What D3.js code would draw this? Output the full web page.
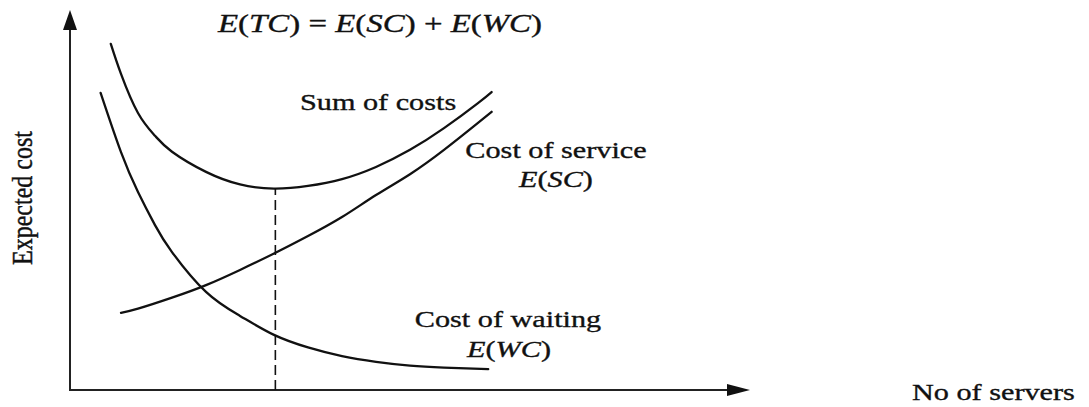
<!DOCTYPE html>
<html>
<head>
<meta charset="utf-8">
<script src="https://cdn.jsdelivr.net/npm/d3@7"></script>
<style>
  body { margin: 0; background: #fff; }
  text { font-family: "Liberation Serif", "Times New Roman", serif; fill: #111; stroke: #111; stroke-width: 0.35px; }
</style>
</head>
<body>
<script>
// values (x = number of servers, y = expected cost, both 0-100)
const xWaiting = [4.5, 7.5, 10, 12.5, 15, 20, 25, 30, 35, 40, 45, 50, 55, 61.5];
const costWaiting = [78.2, 62.6, 52.1, 43.4, 36.3, 25.8, 19.5, 14.5, 11.2, 8.9, 7.4, 6.4, 5.9, 5.5];

const xService = [7.5, 10, 15, 20, 25, 30, 35, 40, 45, 50, 55, 60, 62];
const costService = [20.3, 21.4, 24.3, 27.6, 31.6, 35.9, 40.5, 45.5, 51.3, 56.8, 63.2, 70.3, 73.2];

const xTotal = [6, 7.5, 10, 12.5, 15, 20, 25, 30, 35, 40, 45, 50, 55, 60, 62];
const costTotal = [91.1, 83.2, 72.9, 66.9, 62.7, 57.4, 54.1, 53.0, 53.7, 55.5, 58.7, 63.2, 68.9, 75.5, 78.4];

const optimum = [30.2, 53.0];   // dashed drop line: servers, total cost
const axisMax = 100;

function main() {
  var svg = d3.select("body")
              .append("svg")
              .attr("width", 1089)
              .attr("height", 407);

  var x = d3.scaleLinear().domain([0, axisMax]).range([70, 750]);
  var y = d3.scaleLinear().domain([0, axisMax]).range([390, 10]);

  var stretch = 1.26;  // the source picture is squeezed wider than tall

  // axes with arrow heads
  svg.append("line")
     .attr("x1", x(0)).attr("y1", y(0))
     .attr("x2", x(0)).attr("y2", y(axisMax) + 15)
     .attr("stroke", "#222").attr("stroke-width", 2);
  svg.append("path")
     .attr("d", `M${x(0)},${y(axisMax)} L${x(0) - 7},${y(axisMax) + 20} L${x(0) + 7},${y(axisMax) + 20} Z`)
     .attr("fill", "#111");

  svg.append("line")
     .attr("x1", x(0) - 1).attr("y1", y(0))
     .attr("x2", x(axisMax) - 18).attr("y2", y(0))
     .attr("stroke", "#222").attr("stroke-width", 2);
  svg.append("path")
     .attr("d", `M${x(axisMax)},${y(0)} L${x(axisMax) - 23},${y(0) - 6} L${x(axisMax) - 23},${y(0) + 6} Z`)
     .attr("fill", "#111");

  // curves
  var line = d3.line()
               .x(d => x(d[0]))
               .y(d => y(d[1]))
               .curve(d3.curveNatural);

  var series = [
    d3.zip(xWaiting, costWaiting),
    d3.zip(xService, costService),
    d3.zip(xTotal, costTotal)
  ];

  svg.selectAll("path.curve")
     .data(series)
     .join("path")
     .attr("class", "curve")
     .attr("d", line)
     .attr("fill", "none")
     .attr("stroke", "#111")
     .attr("stroke-width", 2.3)
     .attr("stroke-linecap", "round");

  // optimum drop line
  svg.append("line")
     .attr("x1", x(optimum[0])).attr("y1", y(0))
     .attr("x2", x(optimum[0])).attr("y2", y(optimum[1]))
     .attr("stroke", "#111")
     .attr("stroke-width", 1.6)
     .attr("stroke-dasharray", "10,5");

  // text labels, parts = [text, italic]
  function label(px, py, parts, size, anchor, sx) {
    var t = svg.append("text")
               .attr("transform", `translate(${px},${py}) scale(${sx || stretch},1)`)
               .attr("text-anchor", anchor)
               .style("font-size", size + "px")
               .attr("xml:space", "preserve");
    parts.forEach(p => {
      t.append("tspan")
       .style("font-style", p[1] ? "italic" : "normal")
       .text(p[0]);
    });
  }

  label(218, 32, [["E", 1], ["(", 0], ["TC", 1], [") = ", 0], ["E", 1], ["(", 0], ["SC", 1],
                  [") + ", 0], ["E", 1], ["(", 0], ["WC", 1], [")", 0]], 25.5, "start", 1.29);
  label(300, 110, [["Sum of costs", 0]], 24, "start");
  label(556, 158, [["Cost of service", 0]], 24, "middle");
  label(556, 187, [["E", 1], ["(", 0], ["SC", 1], [")", 0]], 24, "middle");
  label(508, 327, [["Cost of waiting", 0]], 24, "middle");
  label(509, 357, [["E", 1], ["(", 0], ["WC", 1], [")", 0]], 24, "middle");
  label(912, 400, [["No of servers", 0]], 24, "start");

  svg.append("text")
     .attr("transform", `translate(32,198) scale(${stretch},1) rotate(-90)`)
     .attr("text-anchor", "middle")
     .style("font-size", "24px")
     .text("Expected cost");
}

main();
</script>
</body>
</html>
